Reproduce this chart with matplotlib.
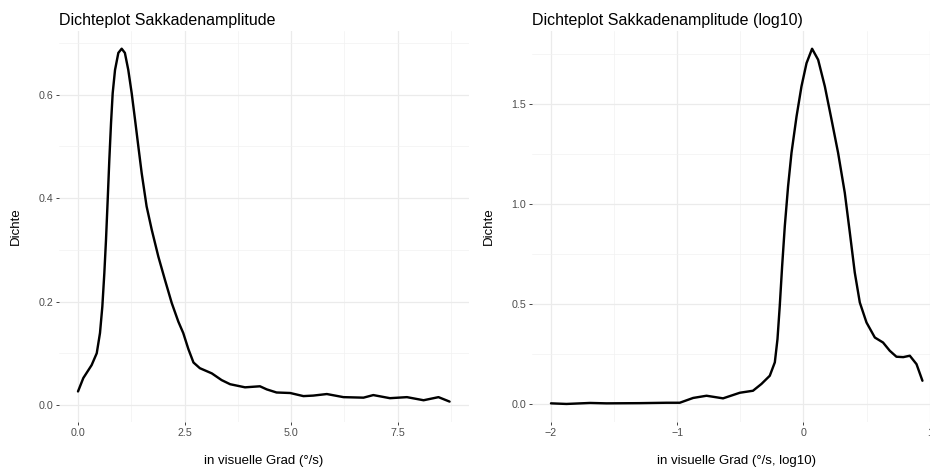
import matplotlib
matplotlib.use("Agg")
import matplotlib.pyplot as plt

plt.rcParams['font.family'] = ['Liberation Sans', 'DejaVu Sans']

# Dichte der Sakkadenamplitude
amp_x = [0.0, 0.125, 0.32, 0.44, 0.516, 0.571, 0.618, 0.657, 0.697, 0.735, 0.775, 0.814,
         0.869, 0.947, 1.025, 1.10, 1.18, 1.26, 1.338, 1.416, 1.495, 1.61, 1.73, 1.885,
         2.04, 2.2, 2.355, 2.47, 2.59, 2.71, 2.86, 3.14, 3.37, 3.57, 3.92, 4.27, 4.43,
         4.66, 4.98, 5.29, 5.52, 5.84, 6.23, 6.70, 6.93, 7.32, 7.72, 8.11, 8.46, 8.72]
amp_y = [0.026, 0.052, 0.077, 0.100, 0.139, 0.190, 0.255, 0.319, 0.397, 0.474, 0.545, 0.603,
         0.648, 0.681, 0.689, 0.681, 0.648, 0.603, 0.552, 0.500, 0.448, 0.384, 0.339, 0.287,
         0.242, 0.197, 0.161, 0.139, 0.108, 0.082, 0.071, 0.061, 0.048, 0.040, 0.034, 0.036, 0.030,
         0.024, 0.023, 0.017, 0.018, 0.021, 0.015, 0.014, 0.019, 0.013, 0.015, 0.009, 0.015, 0.0064]

# Dichte der log10-Sakkadenamplitude
log_x = [-2.0, -1.877, -1.69, -1.56, -1.30, -1.085, -0.98, -0.874, -0.768, -0.637, -0.504,
         -0.40, -0.333, -0.267, -0.227, -0.206, -0.188, -0.169, -0.148, -0.122, -0.095,
         -0.055, -0.016, 0.024, 0.068, 0.116, 0.169, 0.222, 0.274, 0.327, 0.367, 0.406,
         0.446, 0.499, 0.565, 0.630, 0.683, 0.736, 0.79, 0.842, 0.895, 0.942]
log_y = [0.003, 0.0, 0.005, 0.003, 0.004, 0.006, 0.006, 0.030, 0.041, 0.028, 0.056,
         0.066, 0.100, 0.141, 0.208, 0.324, 0.490, 0.690, 0.889, 1.088, 1.255,
         1.437, 1.587, 1.703, 1.775, 1.720, 1.587, 1.421, 1.255, 1.055, 0.856, 0.657,
         0.507, 0.407, 0.332, 0.307, 0.266, 0.236, 0.234, 0.241, 0.199, 0.116]

W, H = 930, 472
fig = plt.figure(figsize=(W / 72, H / 72), dpi=72)


def panel(x0, y0, x1, y1):
    return fig.add_axes([x0 / W, 1 - y1 / H, (x1 - x0) / W, (y1 - y0) / H])


def style(ax, title, xlabel, xmin_ticks, ymin_ticks):
    ax.set_facecolor('white')
    for s in ax.spines.values():
        s.set_visible(False)
    ax.set_xticks(xmin_ticks, minor=True)
    ax.set_yticks(ymin_ticks, minor=True)
    ax.grid(True, which='major', color='#EBEBEB', lw=1.2)
    ax.grid(True, which='minor', color='#F2F2F2', lw=0.7)
    ax.set_axisbelow(True)
    ax.tick_params(which='major', length=3.4, width=0.9, color='#333333',
                   labelcolor='#4D4D4D', labelsize=10.6, pad=3)
    ax.tick_params(which='minor', length=0)
    ax.set_title(title, loc='left', fontsize=16, pad=6)
    ax.set_xlabel(xlabel, fontsize=13.2, labelpad=17)
    ax.set_ylabel('Dichte', fontsize=13.2, labelpad=16)


ax1 = panel(59.4, 31.4, 468.6, 421.7)
ax1.plot(amp_x, amp_y, color='black', lw=2.4, solid_joinstyle='round', solid_capstyle='round')
ax1.set_xlim(-0.4365, 9.1665)
ax1.set_ylim(-0.0325, 0.7225)
ax1.set_xticks([0, 2.5, 5, 7.5])
ax1.set_xticklabels(['0.0', '2.5', '5.0', '7.5'])
ax1.set_yticks([0, 0.2, 0.4, 0.6])
ax1.set_yticklabels(['0.0', '0.2', '0.4', '0.6'])
style(ax1, 'Dichteplot Sakkadenamplitude', 'in visuelle Grad (°/s)',
      [1.25, 3.75, 6.25, 8.75], [0.1, 0.3, 0.5, 0.7])

ax2 = panel(532.4, 31.4, 941.0, 421.7)
ax2.plot(log_x, log_y, color='black', lw=2.4, solid_joinstyle='round', solid_capstyle='round')
ax2.set_xlim(-2.147, 1.089)
ax2.set_ylim(-0.0887, 1.8617)
ax2.set_xticks([-2, -1, 0, 1])
ax2.set_xticklabels(['\u22122', '\u22121', '0', '1'])
ax2.set_yticks([0, 0.5, 1.0, 1.5])
ax2.set_yticklabels(['0.0', '0.5', '1.0', '1.5'])
style(ax2, 'Dichteplot Sakkadenamplitude (log10)', 'in visuelle Grad (°/s, log10)',
      [-1.5, -0.5, 0.5], [0.25, 0.75, 1.25, 1.75])

fig.savefig('out.png', dpi=72)
